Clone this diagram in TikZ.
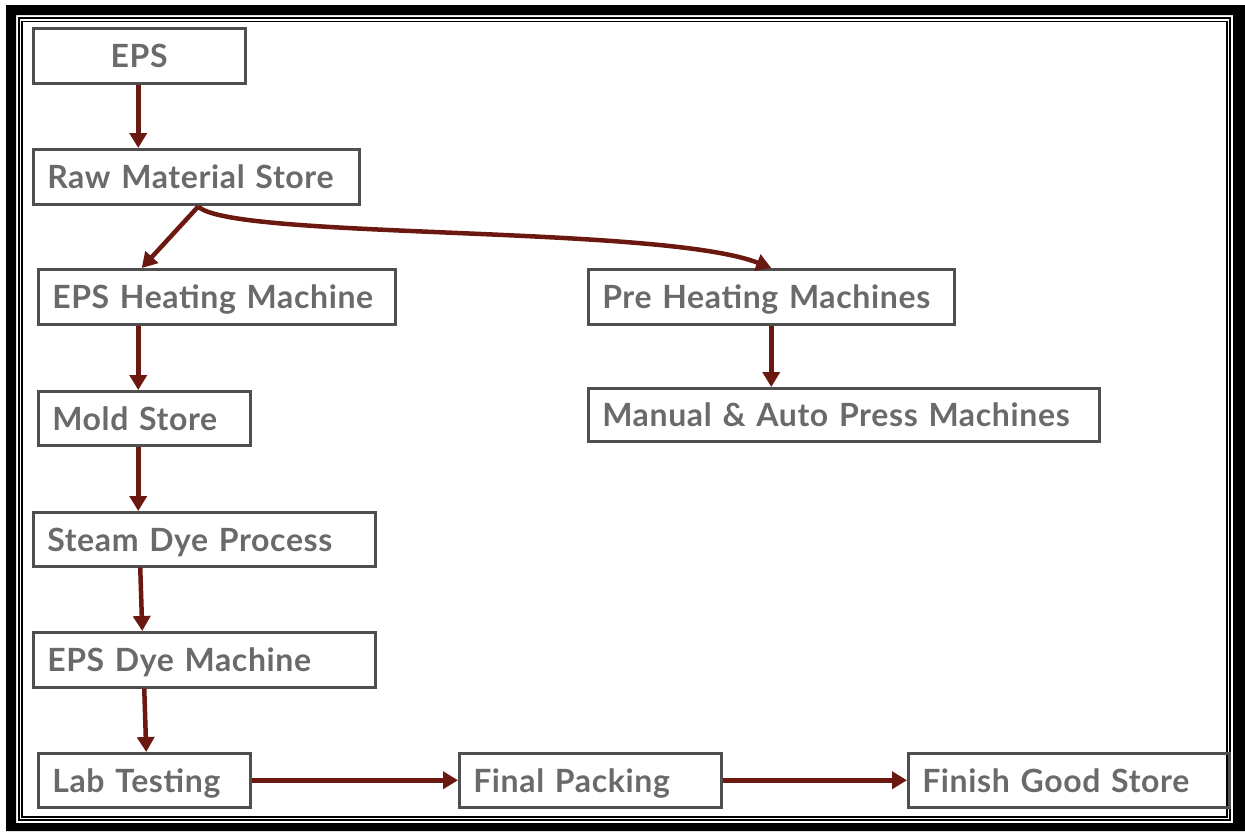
\documentclass[tikz,border=0pt]{standalone}
\usepackage{fontspec}
\setmainfont{Lato}
\usetikzlibrary{arrows.meta,calc}
\definecolor{boxgray}{HTML}{4F4F4F}
\definecolor{txtgray}{HTML}{6A6A6A}
\definecolor{arrred}{HTML}{6B1810}
\tikzset{
  box/.style={draw=boxgray, line width=2.5pt, anchor=north west, inner xsep=14pt, inner ysep=0pt,
    minimum height=55pt, text height=23.5pt, text depth=0pt, text=txtgray, align=left,
    font=\fontsize{32}{36}\selectfont\bfseries\addfontfeatures{LetterSpace=2}},
  arr/.style={draw=arrred, line width=4.5pt, -{Triangle[length=15pt,width=17pt]}},
}
\begin{document}
\begin{tikzpicture}[x=1pt,y=-1pt]
\useasboundingbox (0,0) rectangle (1245,831);
% frame
\fill[black,even odd rule] (6,5) rectangle (1245,831) (16,15) rectangle (1233,823);
\draw[black,line width=2pt] (19,18) rectangle (1230,820);
\draw[black,line width=1.6pt] (22,21.5) rectangle (1227,817);
% nodes
\node[box, text width=184pt, align=center] (eps) at (32,27) {EPS};
\node[box, text width=298pt] (raw) at (32,148) {Raw Material Store};
\node[box, text width=329pt] (heat) at (37,268) {EPS Heating Machine};
\node[box, text width=338pt] (pre) at (587,268) {Pre Heating Machines};
\node[box, text width=483pt, minimum height=53pt] (man) at (587,387) {Manual \& Auto Press Machines};
\node[box, text width=184pt, minimum height=54pt] (mold) at (37,390) {Mold Store};
\node[box, text width=314pt, minimum height=54pt] (steam) at (32,511) {Steam Dye Process};
\node[box, text width=314pt] (dye) at (32,631) {EPS Dye Machine};
\node[box, text width=184pt, minimum height=54pt] (lab) at (37,752) {Lab Testing};
\node[box, text width=234pt, minimum height=54pt] (final) at (458,752) {Final Packing};
\node[box, text width=293pt, minimum height=54pt] (finish) at (907,752) {Finish Good Store};
% connectors
\draw[arr] ([xshift=-1pt]eps.south) -- ([xshift=-1pt]eps.south |- raw.north);
\draw[arr] ([xshift=2pt,yshift=-1pt]raw.south) -- ([xshift=-75pt]heat.north);
\draw[arr] ([xshift=2pt,yshift=-1pt]raw.south) .. controls +(33,33) and +(-110,-43) .. (pre.north);
\draw[arr] ([xshift=-6pt]mold.north |- heat.south) -- ([xshift=-6pt]mold.north);
\draw[arr] (pre.south) -- (pre.south |- man.north);
\draw[arr] ([xshift=-6pt]mold.south) -- ([xshift=-6pt]mold.south |- steam.north);
\draw[arr] ([xshift=-64pt]steam.south) -- ([xshift=-62pt]dye.north);
\draw[arr] ([xshift=-60pt]dye.south) -- ([xshift=2pt]lab.north);
\draw[arr] (lab.east) -- (final.west);
\draw[arr] (final.east) -- (finish.west);
\end{tikzpicture}
\end{document}
